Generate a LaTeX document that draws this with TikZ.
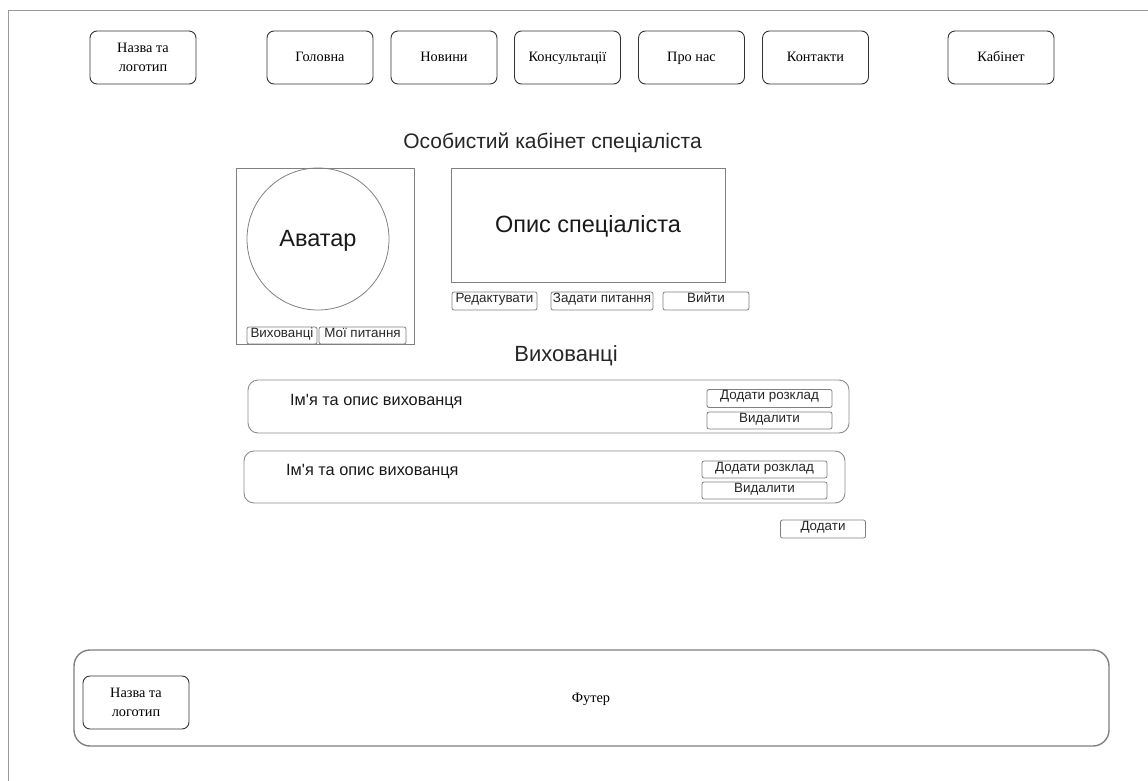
\documentclass[tikz,border=0pt]{standalone}
\usepackage{fontspec}
\setmainfont{Liberation Serif}
\setsansfont{Liberation Sans}[Ligatures=TeXOff]
\begin{document}
\begin{tikzpicture}[x=1pt,y=-1pt,
  navbase/.style={draw=black!80, line width=0.9pt, rounded corners=7pt,
    minimum width=106pt, minimum height=53pt, inner sep=0pt,
    font=\fontsize{14.3}{19}\selectfont},
  navbox/.style={navbase, text height=10pt, text depth=2pt},
  navtwo/.style={navbase, align=center},
  smallbtn/.style={draw=black!50, line width=0.8pt, rounded corners=2pt,
    inner sep=0pt},
  btntext/.style={font=\sffamily\fontsize{13.4}{15}\selectfont, inner sep=0pt,
    anchor=north, yshift=-1.2pt, text=black!85},
  thinbox/.style={draw=black!50, line width=0.8pt, inner sep=0pt},
  card/.style={draw=black!45, line width=0.9pt, rounded corners=10pt,
    inner sep=0pt, minimum height=53pt},
  heading/.style={font=\sffamily\fontsize{21}{24}\selectfont, text=black!85},
  big/.style={font=\sffamily\fontsize{23.5}{27}\selectfont, text=black!90},
  cardtext/.style={font=\sffamily\fontsize{16.3}{19}\selectfont, anchor=west,
    text=black!90, inner sep=0pt}]
\useasboundingbox (0,0) rectangle (1148,781);

% page frame
\draw[black!40, line width=1pt] (8,781) -- (8,11) -- (1148,11);

% navigation bar
\node[navtwo] (logo) at (143,57.5) {Назва та\\логотип};
\node[navbox] (home) at (320,57.5) {Головна};
\node[navbox] (news) at (444,57.5) {Новини};
\node[navbox] (cons) at (567.5,57.5) {Консультації};
\node[navbox] (about) at (691.5,57.5) {Про нас};
\node[navbox] (cont) at (815.5,57.5) {Контакти};
\node[navbox] (cab) at (1001,57.5) {Кабінет};

% page title
\node[heading] (title) at (552.5,143) {Особистий кабінет спеціаліста};

% avatar block
\node[thinbox, minimum width=178pt, minimum height=176pt] (avabox) at (325,256) {};
\node[draw=black!50, line width=0.8pt, circle, minimum size=142pt, inner sep=0pt]
  (ava) at (318,239) {};
\node[big] (avatxt) at (318,241) {Аватар};
\node[smallbtn, minimum width=70pt, minimum height=17pt,
  label={[btntext]north:Вихованці}] (bpets) at (282,335.5) {};
\node[smallbtn, minimum width=87pt, minimum height=17pt,
  label={[btntext]north:Мої питання}] (bq) at (362.5,335.5) {};

% specialist description
\node[thinbox, minimum width=274pt, minimum height=114pt] (desc) at (588,225) {};
\node[big] (desctxt) at (588,226) {Опис спеціаліста};
\node[smallbtn, minimum width=85pt, minimum height=18pt,
  label={[btntext]north:Редактувати}] (bedit) at (494.5,301) {};
\node[smallbtn, minimum width=102pt, minimum height=18pt,
  label={[btntext]north:Задати питання}] (bask) at (602,301) {};
\node[smallbtn, minimum width=86pt, minimum height=18pt,
  label={[btntext]north:Вийти}] (bexit) at (706,301) {};

% pets section
\node[heading, font=\sffamily\fontsize{22}{25}\selectfont] (pets) at (566,356) {Вихованці};

\node[card, minimum width=601pt] (card1) at (548.5,406.5) {};
\node[cardtext] (c1txt) at (290,402) {Ім'я та опис вихованця};
\node[smallbtn, minimum width=125pt, minimum height=18pt,
  label={[btntext]north:Додати розклад}] (c1add) at (769.5,398.5) {};
\node[smallbtn, minimum width=125pt, minimum height=17pt,
  label={[btntext]north:Видалити}] (c1del) at (769.5,420.5) {};

\node[card, minimum width=601pt, minimum height=52pt] (card2) at (544.5,477) {};
\node[cardtext] (c2txt) at (286,472) {Ім'я та опис вихованця};
\node[smallbtn, minimum width=125pt, minimum height=17pt,
  label={[btntext]north:Додати розклад}] (c2add) at (764.5,469.5) {};
\node[smallbtn, minimum width=125pt, minimum height=17pt,
  label={[btntext]north:Видалити}] (c2del) at (764.5,490.5) {};

\node[smallbtn, minimum width=85pt, minimum height=18pt,
  label={[btntext]north:Додати}] (addpet) at (823,529) {};

% footer
\node[draw=black!50, line width=1.4pt, rounded corners=16pt, inner sep=0pt,
  minimum width=1035pt, minimum height=96pt] (footer) at (591.5,698) {};
\node[font=\fontsize{14.3}{16}\selectfont] (foottxt) at (591,699) {Футер};
\node[navtwo] (flogo) at (136,702.5) {Назва та\\логотип};
\end{tikzpicture}
\end{document}
